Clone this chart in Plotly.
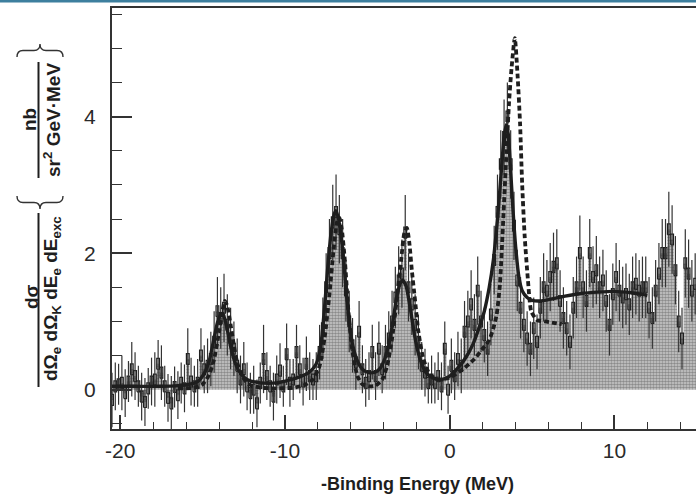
import plotly.graph_objects as go

# ---------------- data ----------------
bin_start = -20.5      # MeV, centre of first bin
bin_width = 0.2        # MeV

counts = [
    -0.15, 0.05, 0.08, 0.1, -0.05, 0.12, 0.3, 0.2, 0.05, -0.1,
    -0.18, 0.02, 0.12, 0.15, 0.38, 0.25, 0.05, -0.12, -0.2, 0.04,
    -0.08, 0.1, 0.02, 0.45, 0.12, 0.05, 0.1, 0.5, 0.3, 0.35,
    0.45, 0.7, 1.15, 1.05, 1.2, 0.95, 0.75, 0.6, 0.35, 0.15,
    0.3, 0.05, -0.05, 0.0, -0.2, 0.1, 0.45, 0.2, 0.05, -0.1,
    0.15, 0.28, 0.05, 0.52, 0.1, 0.15, 0.55, 0.3, 0.12, 0.38,
    0.2, 0.15, 0.2, 0.55, 0.9, 1.5, 2.0, 2.45, 2.6, 2.35,
    2.0, 1.45, 1.0, 0.65, 0.4, 0.85, 0.3, 0.1, 0.2, 0.55,
    0.2, 0.6, 0.3, 0.55, 0.75, 1.0, 1.35, 1.6, 1.7, 2.3,
    1.5, 1.25, 0.95, 0.7, 0.35, 0.25, 0.1, 0.15, 0.1, 0.2,
    0.05, 0.6, 0.0, 0.35, 0.2, 0.45, 0.35, 0.85, 1.0, 1.25,
    0.95, 1.45, 1.0, 0.8, 0.6, 1.1, 1.9, 2.6, 3.3, 3.7,
    4.0, 3.3, 2.4, 1.6, 1.2, 0.95, 0.75, 0.6, 0.9, 0.7,
    1.2, 1.5, 1.45, 1.65, 1.8, 1.85, 1.3, 1.05, 0.9, 0.7,
    1.2, 1.5, 2.0, 1.5, 1.3, 2.0, 1.65, 1.75, 1.5, 1.6,
    1.3, 0.95, 1.4, 1.65, 1.45, 1.35, 1.4, 1.25, 1.5, 1.55,
    1.45, 1.5, 1.5, 1.2, 1.05, 1.45, 1.7, 2.0, 2.0, 2.35,
    2.2, 1.75, 1.0, 0.75, 1.85, 1.7, 1.45, 1.55, 1.4,
]

stat_err = [
    0.4, 0.35, 0.3, 0.4, 0.35, 0.3, 0.4, 0.35, 0.3, 0.35,
    0.35, 0.3, 0.35, 0.4, 0.35, 0.4, 0.3, 0.35, 0.4, 0.3,
    0.35, 0.3, 0.35, 0.45, 0.35, 0.3, 0.35, 0.4, 0.35, 0.4,
    0.4, 0.45, 0.5, 0.45, 0.5, 0.45, 0.45, 0.4, 0.4, 0.35,
    0.4, 0.35, 0.3, 0.35, 0.35, 0.3, 0.5, 0.35, 0.3, 0.35,
    0.35, 0.4, 0.3, 0.45, 0.35, 0.3, 0.4, 0.35, 0.35, 0.4,
    0.35, 0.3, 0.35, 0.4, 0.45, 0.5, 0.5, 0.55, 0.55, 0.5,
    0.5, 0.45, 0.45, 0.4, 0.4, 0.45, 0.35, 0.35, 0.35, 0.4,
    0.35, 0.4, 0.35, 0.4, 0.4, 0.45, 0.45, 0.5, 0.5, 0.55,
    0.5, 0.45, 0.45, 0.4, 0.35, 0.35, 0.3, 0.35, 0.3, 0.35,
    0.35, 0.4, 0.35, 0.4, 0.35, 0.4, 0.4, 0.45, 0.45, 0.5,
    0.45, 0.5, 0.45, 0.4, 0.4, 0.45, 0.5, 0.55, 0.5, 0.55,
    0.5, 0.5, 0.5, 0.45, 0.45, 0.4, 0.4, 0.4, 0.45, 0.4,
    0.45, 0.5, 0.45, 0.5, 0.5, 0.5, 0.45, 0.45, 0.4, 0.4,
    0.45, 0.45, 0.55, 0.45, 0.45, 0.5, 0.45, 0.5, 0.45, 0.45,
    0.45, 0.45, 0.45, 0.5, 0.45, 0.45, 0.45, 0.45, 0.45, 0.45,
    0.45, 0.45, 0.45, 0.45, 0.45, 0.45, 0.45, 0.5, 0.5, 0.55,
    0.5, 0.5, 0.45, 0.45, 0.5, 0.5, 0.45, 0.45, 0.45,
]

fit_x = [-20.5, -19.0, -17.5, -16.5, -15.8, -15.3, -14.9, -14.6, -14.35, -14.1,
         -13.9, -13.75, -13.5, -13.25, -13.0, -12.7, -12.3, -11.5, -10.5, -9.75,
         -9.0, -8.5, -8.1, -7.8, -7.6, -7.4, -7.2, -7.0, -6.9, -6.75,
         -6.5, -6.3, -6.1, -5.9, -5.6, -5.3, -4.9, -4.5, -4.2, -3.95,
         -3.7, -3.45, -3.2, -3.0, -2.85, -2.65, -2.4, -2.15, -1.95, -1.7,
         -1.4, -1.0, -0.5, 0.0, 0.5, 1.0, 1.4, 1.8, 2.1, 2.4,
         2.65, 2.9, 3.1, 3.3, 3.42, 3.55, 3.7, 3.85, 4.0, 4.2,
         4.4, 4.7, 5.0, 5.5, 6.0, 7.0, 8.0, 9.0, 10.0, 11.0, 11.6, 12.0]
fit_y = [0.05, 0.05, 0.05, 0.06, 0.08, 0.12, 0.24, 0.42, 0.7, 0.98,
         1.1, 1.1, 0.88, 0.58, 0.38, 0.24, 0.15, 0.1, 0.1, 0.14,
         0.2, 0.26, 0.38, 0.7, 1.2, 1.8, 2.3, 2.58, 2.62, 2.5,
         2.05, 1.5, 1.0, 0.66, 0.42, 0.3, 0.25, 0.26, 0.32, 0.45,
         0.66, 1.0, 1.38, 1.56, 1.6, 1.52, 1.2, 0.82, 0.58, 0.38,
         0.24, 0.17, 0.15, 0.2, 0.32, 0.48, 0.66, 0.92, 1.15, 1.5,
         1.9, 2.5, 3.1, 3.7, 3.88, 3.75, 3.2, 2.6, 2.1, 1.65,
         1.45, 1.35, 1.31, 1.3, 1.32, 1.37, 1.41, 1.43, 1.44, 1.42, 1.4, 1.38]

theory_x = [-16.5, -15.5, -15.0, -14.6, -14.3, -14.0, -13.8, -13.65, -13.5, -13.3,
            -13.1, -12.9, -12.6, -12.2, -11.5, -10.5, -9.5, -8.8, -8.3, -7.9,
            -7.6, -7.3, -7.05, -6.85, -6.7, -6.55, -6.35, -6.15, -5.9, -5.6,
            -5.3, -4.9, -4.5, -4.1, -3.8, -3.5, -3.2, -2.95, -2.75, -2.6,
            -2.45, -2.3, -2.1, -1.9, -1.6, -1.2, -0.7, 0.0, 0.8, 1.5,
            2.0, 2.4, 2.65, 2.85, 3.05, 3.25, 3.45, 3.6, 3.75, 3.95,
            4.12, 4.27, 4.4, 4.55, 4.75, 4.95, 5.3, 5.8, 6.3, 6.8]
theory_y = [0.02, 0.03, 0.08, 0.22, 0.45, 0.85, 1.15, 1.3, 1.22, 0.95,
            0.65, 0.4, 0.2, 0.08, 0.03, 0.02, 0.03, 0.07, 0.15, 0.35,
            0.75, 1.4, 2.05, 2.45, 2.52, 2.35, 1.85, 1.15, 0.55, 0.2,
            0.08, 0.05, 0.06, 0.15, 0.35, 0.75, 1.35, 1.9, 2.3, 2.37,
            2.15, 1.75, 1.3, 0.85, 0.45, 0.22, 0.15, 0.18, 0.3, 0.45,
            0.6, 0.73, 0.9, 1.1, 1.55, 2.5, 3.5, 4.2, 4.7, 5.15,
            4.6, 3.9, 3.0, 2.25, 1.6, 1.15, 1.02, 1.0, 0.98, 0.96]

x_ticks = [-20, -10, 0, 10]
x_tick_labels = ["-20", "-10", "0", "10"]
y_ticks = [0, 2, 4]
y_tick_labels = ["0", "2", "4"]

# ---------------- geometry helpers (layout only) ----------------
W, H = 696, 495
L, R, T, B = 112, 0, 8, 66
PW, PH = W - L - R, H - T - B


def pp(px, py):
    return (px - L) / PW, (H - B - py) / PH


INK = "#1e1e1e"
FONT = "Liberation Sans, Arial, Helvetica, sans-serif"
box_half = 0.08

centers = [bin_start + bin_width * i for i in range(len(counts))]

fig = go.Figure()

# shaded histogram
sx, sy = [], []
for c, v in zip(centers, counts):
    sx += [c - bin_width / 2, c + bin_width / 2]
    sy += [v, v]
fig.add_trace(go.Scatter(
    x=sx, y=sy, mode="lines", line=dict(width=0, color="rgba(0,0,0,0)"),
    fill="tozeroy", fillcolor="#a0a0a0",
    fillpattern=dict(shape=".", fgcolor="#4a4a4a", bgcolor="#cdcdcd", size=3, solidity=0.6),
    hoverinfo="skip", showlegend=False))

# systematic boxes
bx, by = [], []
hw = bin_width * 0.42
for c, v in zip(centers, counts):
    bx += [c - hw, c + hw, c + hw, c - hw, c - hw, None]
    by += [v - box_half, v - box_half, v + box_half, v + box_half, v - box_half, None]
fig.add_trace(go.Scatter(x=bx, y=by, mode="lines", line=dict(color=INK, width=1.2),
                         hoverinfo="skip", showlegend=False))

# statistical error bars
fig.add_trace(go.Scatter(
    x=centers, y=counts, mode="markers", marker=dict(size=1, color="rgba(0,0,0,0)"),
    error_y=dict(type="data", array=stat_err, visible=True, width=0, thickness=1.2, color="#333333"),
    hoverinfo="skip", showlegend=False))

# theory (dashed)
fig.add_trace(go.Scatter(x=theory_x, y=theory_y, mode="lines",
                         line=dict(color=INK, width=3.8, dash="5px,3px", shape="spline", smoothing=0.6),
                         hoverinfo="skip", showlegend=False))
# fit (solid)
fig.add_trace(go.Scatter(x=fit_x, y=fit_y, mode="lines",
                         line=dict(color=INK, width=3.4, shape="spline", smoothing=0.6),
                         hoverinfo="skip", showlegend=False))

axis_common = dict(showgrid=False, zeroline=False, showline=True, linecolor="#333", linewidth=2,
                   ticks="inside", tickcolor="#333", tickwidth=1.5,
                   tickfont=dict(family=FONT, size=21, color="#2a2a2a"))

fig.update_xaxes(range=[-20.5, 14.95], tickmode="array", tickvals=x_ticks, ticktext=x_tick_labels,
                 ticklen=14, mirror=True, ticklabelstandoff=2,
                 minor=dict(ticks="inside", tickmode="linear", dtick=2, tick0=0, ticklen=7,
                            tickcolor="#333", tickwidth=1.2),
                 **axis_common)
fig.update_yaxes(range=[-0.575, 5.59], tickmode="array", tickvals=y_ticks, ticktext=y_tick_labels,
                 ticklen=20, ticklabelstandoff=10,
                 minor=dict(ticks="inside", tickmode="linear", dtick=0.5, tick0=0, ticklen=10,
                            tickcolor="#333", tickwidth=1.2),
                 **axis_common)

ann = []
shapes = []


def text_at(px, py, txt, size=19, angle=-90, bold=True):
    x, y = pp(px, py)
    ann.append(dict(x=x, y=y, xref="paper", yref="paper", text=(f"<b>{txt}</b>" if bold else txt),
                    showarrow=False, textangle=angle, xanchor="center", yanchor="middle",
                    font=dict(family=FONT, size=size, color=INK)))


def vline(px, py0, py1, w=2):
    x0, y0 = pp(px, py0)
    x1, y1 = pp(px, py1)
    shapes.append(dict(type="line", xref="paper", yref="paper", x0=x0, y0=y0, x1=x1, y1=y1,
                       line=dict(color=INK, width=w)))


def brace(xl, xr, y_end, y_tip):
    ym = (y_end + y_tip) / 2
    xc = (xl + xr) / 2
    q = 6
    pts = [("M", xl, y_end), ("Q", xl, ym), ("", xl + q, ym), ("L", xc - q, ym),
           ("Q", xc, ym), ("", xc, y_tip), ("Q", xc, ym), ("", xc + q, ym),
           ("L", xr - q, ym), ("Q", xr, ym), ("", xr, y_end)]
    path = ""
    for cmd, a, b in pts:
        x, y = pp(a, b)
        path += f"{cmd}{x:.5f},{y:.5f} "
    shapes.append(dict(type="path", xref="paper", yref="paper", path=path.strip(),
                       line=dict(color="#333", width=1.4)))


# y-axis label (fraction with units)
text_at(31, 297, "dσ")
vline(38.5, 213, 387)
text_at(52, 299, "dΩ<sub>e</sub> dΩ<sub>K</sub> dE<sub>e</sub> dE<sub>exc</sub>")
brace(17, 63, 196, 209)
text_at(29, 119, "nb")
vline(38.5, 62, 178)
text_at(52, 120, "sr<sup>2</sup> GeV·MeV")
brace(17, 63, 57, 44)

# x-axis title
text_at(417, 484, "-Binding Energy (MeV)", size=18, angle=0)

# thin teal strip at the very top of the page
x0, y0 = pp(0, 0)
x1, y1 = pp(W, 2.5)
shapes.append(dict(type="rect", xref="paper", yref="paper", x0=x0, y0=y0, x1=x1, y1=y1,
                   line=dict(width=0), fillcolor="#3d7f9e"))

fig.update_layout(width=W, height=H, margin=dict(l=L, r=R, t=T, b=B, pad=0),
                  plot_bgcolor="white", paper_bgcolor="white", hovermode=False,
                  annotations=ann, shapes=shapes, showlegend=False)

fig.write_html("out.html", config={"displayModeBar": False},
               post_script="document.body.style.margin='0px';document.body.style.overflow='hidden';")
